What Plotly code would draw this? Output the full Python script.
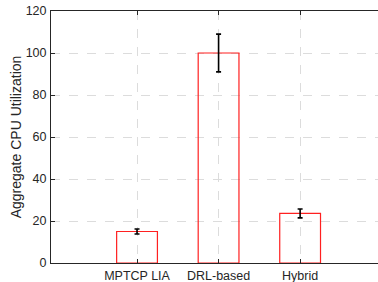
import plotly.graph_objects as go

categories = ["MPTCP LIA", "DRL-based", "Hybrid"]
positions = [1, 2, 3]
cpu_util = [15.0, 100.0, 23.6]
cpu_err = [1.2, 9.0, 2.1]
y_ticks = [0, 20, 40, 60, 80, 100, 120]

fig = go.Figure()
fig.add_trace(go.Bar(
    x=positions, y=cpu_util, width=0.5,
    marker=dict(color="rgba(255,255,255,0)", line=dict(color="#ff2020", width=1.2)),
    error_y=dict(type="data", array=cpu_err, visible=True, color="black", thickness=1.6, width=2.5),
    showlegend=False,
))

axis_font = dict(family="Liberation Sans, Arial, sans-serif", size=12.5, color="#262626")
title_font = dict(family="Liberation Sans, Arial, sans-serif", size=14, color="#262626")

fig.update_layout(
    width=378, height=282,
    margin=dict(l=51, r=0, t=11, b=19, autoexpand=False),
    paper_bgcolor="white", plot_bgcolor="white",
    font=axis_font,
    xaxis=dict(
        range=[-0.055, 3.955],
        tickmode="array", tickvals=positions, ticktext=categories,
        ticks="inside", ticklen=4, tickcolor="#262626",
        showline=True, linecolor="#262626", linewidth=1, mirror="ticks",
        showgrid=True, gridcolor="#dcdcdc", griddash="dash", gridwidth=1,
        zeroline=False, tickfont=axis_font, automargin=False,
        ticklabelstandoff=1,
    ),
    yaxis=dict(
        range=[0, 120],
        tickmode="array", tickvals=y_ticks,
        ticks="inside", ticklen=4, tickcolor="#262626",
        showline=True, linecolor="#262626", linewidth=1,
        showgrid=True, gridcolor="#dcdcdc", griddash="dash", gridwidth=1,
        zeroline=False, tickfont=axis_font, automargin=False,
        ticklabelstandoff=1,
        title=dict(text="Aggregate CPU Utilization", font=title_font, standoff=0),
    ),
)

fig.write_html("out.html", config={"displayModeBar": False},
               post_script="document.body.style.margin='0';")
